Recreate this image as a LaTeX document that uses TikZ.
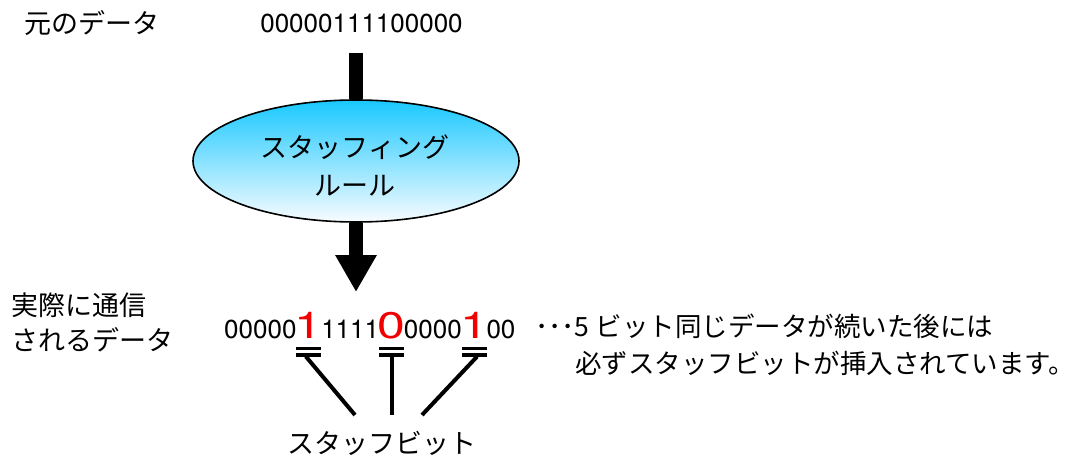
\documentclass[tikz,border=0pt]{standalone}
\usepackage{fontspec}
\setmainfont{TeX Gyre Heros}
\newfontfamily\arl{TeX Gyre Heros}
\newfontfamily\jp{Noto Sans CJK JP}
\usetikzlibrary{shapes.geometric,arrows.meta}
\definecolor{skytop}{RGB}{25,200,255}
\definecolor{skybot}{RGB}{248,252,255}
\definecolor{bitred}{RGB}{240,0,0}
\tikzset{
  jtext/.style={font=\jp\fontsize{27}{32}\selectfont, inner sep=0pt},
  exptext/.style={font=\jp\fontsize{26.5}{32}\selectfont, inner sep=0pt, anchor=west},
  dig/.style={font=\arl\fontsize{26}{32}\selectfont, inner sep=0pt, anchor=base west},
  reddig/.style={font=\arl\fontsize{37}{40}\selectfont, text=bitred, inner sep=0pt, anchor=base west},
  rule/.style={ellipse, draw=black, line width=1.6pt, minimum width=326pt, minimum height=122pt,
    top color=skytop, bottom color=skybot, inner sep=0pt},
  bigshaft/.style={line width=14pt},
  barline/.style={line width=3.5pt},
  conn/.style={line width=4pt},
}
\newcommand{\rd}[1]{\makebox[24pt]{\scalebox{1.35}[1]{#1}}}
\begin{document}
\begin{tikzpicture}[x=1pt,y=-1pt]
\useasboundingbox (0,0) rectangle (1083,457);

% top row
\node[jtext] (origlabel) at (91.5,23) {元のデータ};
\node[font=\arl\fontsize{26}{32}\selectfont, inner sep=0pt] (orig) at (361.5,23) {00000111100000};

% ellipse
\node[rule] (ell) at (356,161) {};
\node[jtext] (rl1) at (355,147) {スタッフィング};
\node[jtext] (rl2) at (355,186) {ルール};

% arrows
\coordinate (a1) at (356,53);
\draw[bigshaft] (a1) -- (ell.north);
\coordinate (a2) at (356,292);
\draw[bigshaft, -{Triangle[width=39pt,length=37pt]}] (ell.south) -- (a2);

% left label
\node[jtext, anchor=west] (sent1) at (11,305) {実際に通信};
\node[jtext, anchor=west] (sent2) at (11,340) {されるデータ};

% bit string
\node[dig] (b1) at (224,338) {00000};
\node[reddig] (r1) at (b1.base east) {\rd{1}};
\node[dig] (b2) at (r1.base east) {1111};
\node[reddig] (r2) at (b2.base east) {\rd{0}};
\node[dig] (b3) at (r2.base east) {0000};
\node[reddig] (r3) at (b3.base east) {\rd{1}};
\node[dig] (b4) at (r3.base east) {00};

% explanation
\node[exptext] (exp1) at (535,326) {･･･5 ビット同じデータが続いた後には};
\node[exptext] (exp2) at (575,363) {必ずスタッフビットが挿入されています。};

% double bars
\foreach \r in {r1,r2,r3}{
  \draw[barline] ([xshift=-12.5pt,yshift=-10.5pt]\r.base) -- ++(25,0);
  \draw[barline] ([xshift=-12.5pt,yshift=-17pt]\r.base) -- ++(25,0);
}
\coordinate (t1) at ([xshift=-3pt,yshift=-18.5pt]r1.base);
\coordinate (t2) at ([yshift=-18.5pt]r2.base);
\coordinate (t3) at ([xshift=3pt,yshift=-18.5pt]r3.base);

% stuff bit label
\node[jtext] (sb) at (382,443) {スタッフビット};
\coordinate (e1) at (355,415);
\coordinate (e2) at (t2 |- e1);
\coordinate (e3) at (422,415);
\draw[conn] (t1) -- (e1);
\draw[conn] (t2) -- (e2);
\draw[conn] (t3) -- (e3);
\end{tikzpicture}
\end{document}
